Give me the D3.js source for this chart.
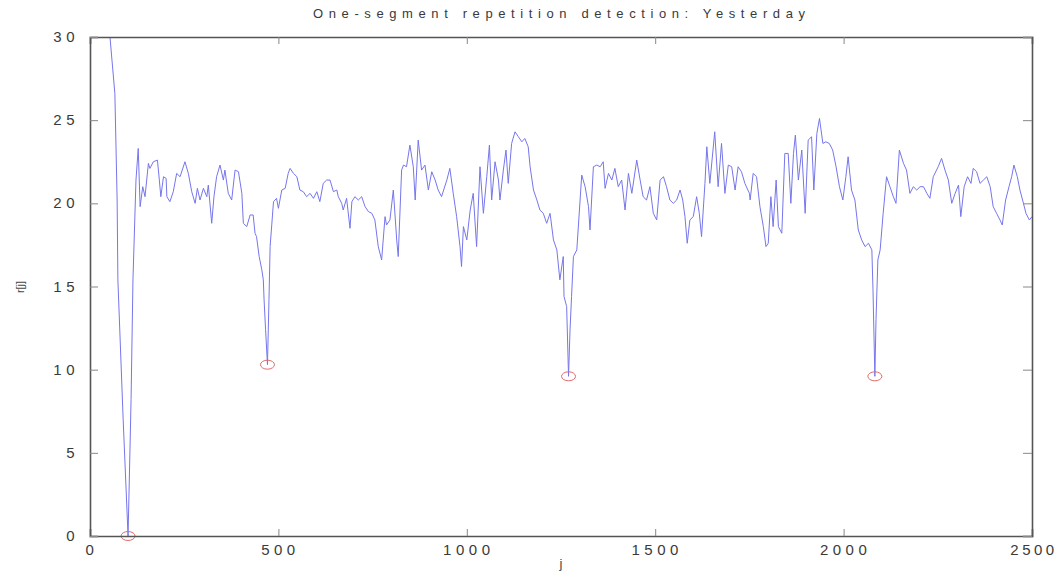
<!DOCTYPE html>
<html lang="en">
<head>
<meta charset="utf-8" />
<title>repetition detection</title>
<script src="https://d3js.org/d3.v7.min.js"></script>
<style>
  body { margin: 0; background: #fff; }
  text { font-family: "Liberation Sans", Arial, sans-serif; }
</style>
</head>
<body>
<div id="chart"></div>
<script>
// values: frame index j and score r[j]
var jValues = [48, 53, 66, 72, 74, 88, 101, 109, 114, 122, 128, 133, 140, 146, 155, 159, 168, 179, 184, 188,
  195, 202, 204, 212, 221, 230, 239, 252, 261, 270, 279, 285, 292, 301, 310, 314, 323, 329, 336, 345,
  354, 358, 367, 376, 385, 394, 403, 407, 416, 425, 433, 438, 442, 449, 456, 460, 462, 466, 471, 475,
  478, 487, 495, 500, 509, 518, 526, 531, 540, 549, 557, 566, 575, 584, 593, 602, 610, 619, 628, 637,
  646, 655, 659, 668, 672, 681, 690, 695, 703, 712, 721, 730, 739, 748, 756, 765, 774, 783, 787, 796,
  805, 814, 818, 827, 832, 840, 849, 858, 863, 871, 880, 889, 898, 907, 916, 924, 933, 947, 955, 964,
  973, 982, 986, 991, 1000, 1009, 1017, 1026, 1035, 1044, 1053, 1060, 1066, 1075, 1084, 1088, 1097, 1104, 1110, 1119,
  1128, 1137, 1146, 1154, 1163, 1168, 1177, 1186, 1194, 1203, 1212, 1221, 1230, 1239, 1247, 1256, 1258, 1265, 1270, 1274,
  1278, 1283, 1292, 1305, 1314, 1323, 1327, 1336, 1345, 1354, 1362, 1367, 1376, 1385, 1393, 1402, 1411, 1420, 1429, 1438,
  1451, 1460, 1468, 1477, 1486, 1495, 1504, 1513, 1522, 1530, 1539, 1548, 1557, 1566, 1573, 1579, 1585, 1592, 1601, 1610,
  1617, 1623, 1632, 1637, 1645, 1658, 1667, 1676, 1685, 1694, 1703, 1712, 1720, 1729, 1738, 1750, 1752, 1760, 1769, 1778,
  1787, 1794, 1800, 1807, 1813, 1821, 1827, 1836, 1844, 1853, 1860, 1867, 1872, 1880, 1889, 1898, 1906, 1915, 1921, 1929,
  1936, 1945, 1953, 1962, 1971, 1980, 1989, 1998, 2006, 2012, 2021, 2030, 2039, 2048, 2057, 2066, 2075, 2078, 2083, 2086,
  2091, 2097, 2105, 2114, 2123, 2132, 2139, 2148, 2159, 2167, 2176, 2185, 2194, 2203, 2212, 2221, 2229, 2238, 2251, 2260,
  2269, 2278, 2287, 2296, 2305, 2311, 2320, 2329, 2338, 2344, 2353, 2362, 2371, 2380, 2389, 2397, 2406, 2415, 2421, 2430,
  2439, 2446, 2452, 2461, 2468, 2475, 2484, 2493, 2500];

var rValues = [31.0, 30.0, 26.6, 20.2, 15.4, 7.0, 0.0, 8.2, 15.4, 21.4, 23.3, 19.8, 21.0, 20.4, 22.4, 22.1, 22.5, 22.6, 21.4, 20.4,
  21.6, 21.5, 20.4, 20.1, 20.7, 21.8, 21.6, 22.5, 21.8, 20.7, 20.0, 20.9, 20.2, 20.9, 20.4, 21.1, 18.8, 20.4, 21.6, 22.3,
  21.4, 22.0, 20.6, 20.2, 22.0, 21.9, 20.6, 18.8, 18.6, 19.3, 19.3, 18.2, 18.0, 16.8, 16.0, 15.4, 14.2, 12.4, 10.3, 14.2,
  17.4, 20.1, 20.3, 19.7, 20.8, 20.9, 21.8, 22.1, 21.8, 21.6, 20.8, 20.7, 20.4, 20.6, 20.3, 20.7, 20.1, 21.2, 21.4, 21.4,
  20.7, 20.8, 20.4, 20.0, 19.6, 20.3, 18.5, 20.1, 20.4, 20.2, 20.4, 19.8, 19.5, 19.4, 19.0, 17.4, 16.6, 19.2, 18.7, 19.0,
  20.8, 17.8, 16.8, 22.0, 22.3, 22.2, 23.5, 22.2, 20.2, 23.8, 22.0, 22.3, 20.8, 21.9, 21.4, 20.8, 20.4, 21.4, 22.1, 20.6,
  19.2, 17.4, 16.2, 18.6, 17.8, 19.6, 20.6, 17.4, 22.2, 19.4, 21.6, 23.5, 20.2, 22.5, 21.4, 20.2, 22.0, 23.2, 21.2, 23.6,
  24.3, 24.0, 23.7, 23.9, 23.4, 22.2, 20.8, 20.2, 19.6, 19.4, 18.8, 19.4, 17.8, 17.2, 15.4, 16.8, 14.4, 13.8, 9.6, 12.4,
  14.4, 16.8, 17.2, 21.7, 21.0, 19.8, 18.4, 22.2, 22.3, 22.2, 22.5, 20.9, 21.8, 21.4, 22.1, 21.0, 21.4, 19.6, 21.8, 20.6,
  22.6, 21.4, 20.4, 20.2, 21.0, 19.4, 19.0, 21.4, 21.6, 21.0, 20.2, 20.0, 20.2, 20.8, 20.2, 19.2, 17.6, 19.0, 19.2, 20.4,
  19.4, 18.0, 21.2, 23.4, 21.2, 24.3, 21.0, 23.6, 20.6, 22.3, 22.2, 20.8, 22.2, 21.9, 21.2, 20.6, 20.2, 21.8, 21.6, 19.8,
  18.6, 17.4, 17.6, 20.4, 18.6, 21.4, 18.6, 18.2, 23.0, 23.0, 20.0, 23.0, 24.1, 21.4, 23.2, 19.4, 23.8, 24.0, 20.8, 24.2,
  25.1, 23.6, 23.7, 23.6, 23.2, 22.2, 21.0, 20.2, 21.6, 22.8, 20.8, 20.2, 18.4, 17.8, 17.4, 17.6, 17.2, 14.8, 9.6, 13.0,
  16.6, 17.2, 19.4, 21.6, 21.0, 20.4, 20.0, 23.2, 22.4, 22.0, 20.6, 21.0, 20.8, 21.0, 21.0, 20.6, 20.3, 21.6, 22.2, 22.7,
  22.0, 21.4, 20.0, 20.6, 21.1, 19.2, 21.0, 21.6, 21.2, 22.1, 21.9, 21.2, 21.4, 21.6, 21.0, 19.8, 19.4, 19.0, 18.7, 20.2,
  21.0, 21.6, 22.3, 21.6, 20.8, 20.2, 19.4, 19.0, 19.2];

// detected minima (red circles)
var minJ = [101, 471, 1270, 2083];
var minR = [0.0, 10.3, 9.6, 9.6];

var xTicks = [0, 500, 1000, 1500, 2000, 2500];
var yTicks = [0, 5, 10, 15, 20, 25, 30];

var chartTitle = "One-segment repetition detection: Yesterday";

function drawChart() {
  var width = 1058, height = 579;
  var margin = {top: 37, right: 26, bottom: 43, left: 90};
  var plotW = width - margin.left - margin.right;
  var plotH = height - margin.top - margin.bottom;

  var data = jValues.map(function(j, i) { return {j: j, r: rValues[i]}; });

  var xScale = d3.scaleLinear().domain([0, 2500]).range([0, plotW]);
  var yScale = d3.scaleLinear().domain([0, 30]).range([plotH, 0]);

  var svg = d3.select("#chart").append("svg")
      .attr("width", width)
      .attr("height", height);

  svg.append("defs").append("clipPath").attr("id", "plotClip")
    .append("rect").attr("width", plotW).attr("height", plotH);

  var g = svg.append("g")
      .attr("transform", "translate(" + margin.left + "," + margin.top + ")");

  // the signal
  var line = d3.line()
      .x(function(d) { return xScale(d.j); })
      .y(function(d) { return yScale(d.r); });

  g.append("path")
      .datum(data)
      .attr("clip-path", "url(#plotClip)")
      .attr("fill", "none")
      .attr("stroke", "#7676ec")
      .attr("stroke-width", 1)
      .attr("d", line);

  // red circles on the minima
  g.selectAll("ellipse.min")
      .data(minJ)
    .enter().append("ellipse")
      .attr("class", "min")
      .attr("cx", function(d) { return xScale(d); })
      .attr("cy", function(d, i) { return yScale(minR[i]); })
      .attr("rx", 7)
      .attr("ry", 4.5)
      .attr("fill", "none")
      .attr("stroke", "#e06a6a")
      .attr("stroke-width", 1);

  // axes: ticks point inward, matlab style box
  var axisColor = "#555";
  var bottomAxis = d3.axisBottom(xScale).tickValues(xTicks).tickSize(-7).tickFormat("");
  var topAxis = d3.axisTop(xScale).tickValues(xTicks).tickSize(-7).tickFormat("");
  var leftAxis = d3.axisLeft(yScale).tickValues(yTicks).tickSize(-8).tickFormat("");
  var rightAxis = d3.axisRight(yScale).tickValues(yTicks).tickSize(-9).tickFormat("");

  var gb = g.append("g").attr("transform", "translate(0," + plotH + ")").call(bottomAxis);
  var gt = g.append("g").call(topAxis);
  var gl = g.append("g").call(leftAxis);
  var gr = g.append("g").attr("transform", "translate(" + plotW + ",0)").call(rightAxis);

  [gb, gt, gl, gr].forEach(function(ax) {
    ax.select(".domain").attr("stroke", axisColor).attr("stroke-width", 1.6);
    ax.selectAll(".tick line").attr("stroke", "#888").attr("stroke-width", 1);
  });

  // tick labels, spaced out like the original
  g.selectAll("text.xlab")
      .data(xTicks)
    .enter().append("text")
      .attr("class", "xlab")
      .attr("x", function(d) { return Math.min(xScale(d) + 2, plotW + 2); })
      .attr("y", plotH + 19)
      .attr("text-anchor", "middle")
      .attr("font-size", 15)
      .attr("letter-spacing", function(d) { return d === 2500 ? 3.5 : 4.5; })
      .attr("fill", "#3a3a3a")
      .text(function(d) { return d; });

  g.selectAll("text.ylab")
      .data(yTicks)
    .enter().append("text")
      .attr("class", "ylab")
      .attr("x", -11)
      .attr("y", function(d) { return yScale(d) + 5; })
      .attr("text-anchor", "end")
      .attr("font-size", 15)
      .attr("letter-spacing", 4.5)
      .attr("fill", "#3a3a3a")
      .text(function(d) { return d; });

  // title
  svg.append("text")
      .attr("x", 313)
      .attr("y", 18)
      .attr("font-size", 13)
      .attr("textLength", 492)
      .attr("lengthAdjust", "spacing")
      .attr("fill", "#3a3a3a")
      .text(chartTitle);

  // axis titles
  svg.append("text")
      .attr("x", 561)
      .attr("y", 568)
      .attr("text-anchor", "middle")
      .attr("font-size", 13)
      .attr("fill", "#444")
      .text("j");

  svg.append("text")
      .attr("transform", "translate(24,287) rotate(-90)")
      .attr("text-anchor", "middle")
      .attr("font-size", 11)
      .attr("fill", "#444")
      .text("r[j]");
}

drawChart();
</script>
</body>
</html>
